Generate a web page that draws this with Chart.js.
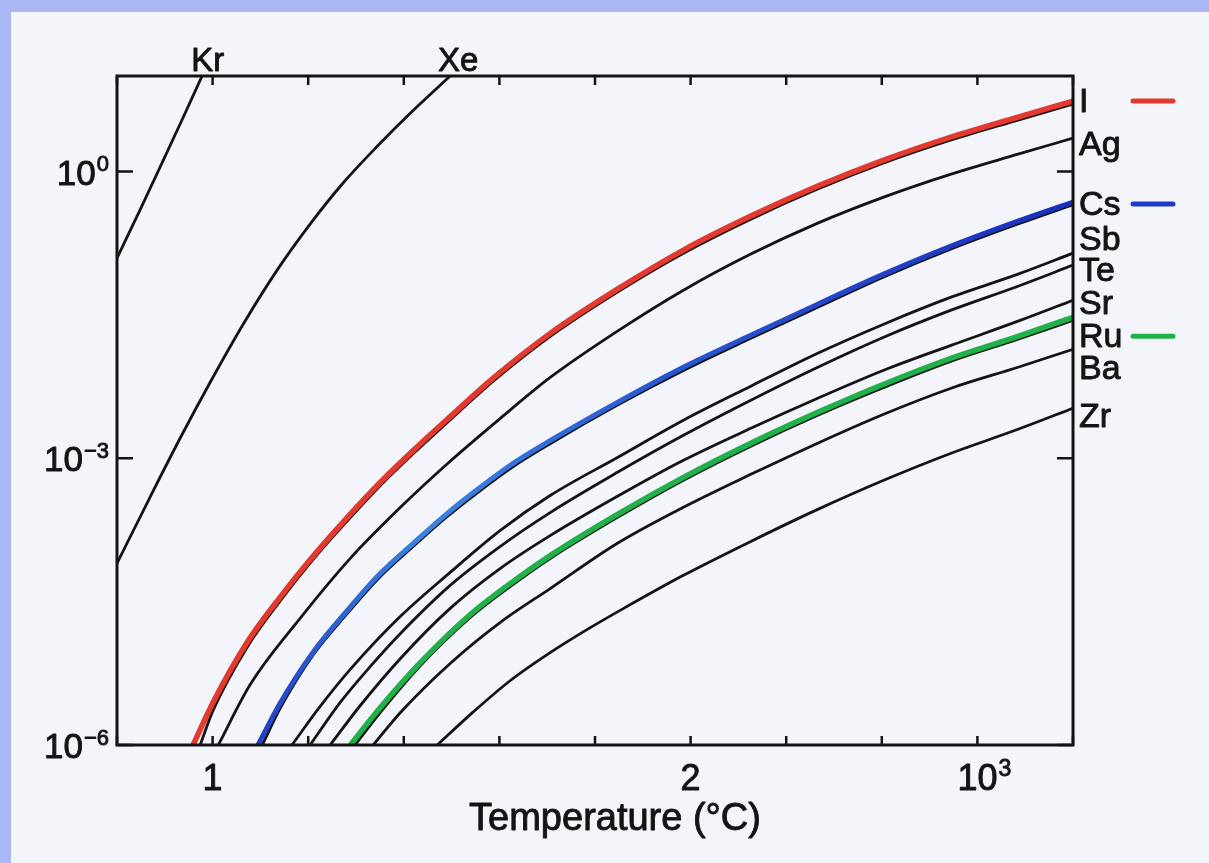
<!DOCTYPE html>
<html>
<head>
<meta charset="utf-8">
<script src="https://cdn.jsdelivr.net/npm/chart.js@4.4.0/dist/chart.umd.min.js"></script>
<style>
  html, body { margin: 0; padding: 0; }
  body { width: 1209px; height: 863px; background: #a9b8f4; position: relative; overflow: hidden; }
  #paper { position: absolute; left: 11px; top: 12px; right: 0; bottom: 0; background: #f4f5fa; }
  #wrap { position: absolute; left: 0; top: 0; width: 1209px; height: 863px; }
</style>
</head>
<body>
<div id="paper"></div>
<div id="wrap"><canvas id="chart" width="1209" height="863"></canvas></div>
<script>
// axis ticks and labels
const tempTicks = [0.8, 1.0, 1.2, 1.4, 1.6, 1.8, 2.0, 2.2, 2.4, 2.6, 2.8];
const tempLabelAt = [1.0, 2.0, 2.6];
const tempLabelBase = ['1', '2', '10'];
const tempLabelSup = ['', '', '3'];
const fracTicks = [1e0, 1e-3, 1e-6];
const fracTickSup = ['0', '\u22123', '\u22126'];

// curves (x = temperature axis units, y = released fraction)
const krT = [0.8, 0.848, 0.89, 0.934, 0.978];
const krV = [0.124, 0.395, 1.11, 3.30, 10];
const xeT = [0.8, 0.869, 0.932, 0.995, 1.064, 1.135, 1.204, 1.273, 1.345, 1.414, 1.497];
const xeV = [7.96e-5, 3.91e-4, 1.62e-3, 6.25e-3, 0.0253, 0.0931, 0.282, 0.759, 1.85, 4.10, 10];

const iT = [0.974, 1.001, 1.072, 1.141, 1.210, 1.282, 1.351, 1.420, 1.491, 1.587, 1.707, 1.847, 1.985, 2.126, 2.266, 2.404, 2.545, 2.685, 2.80];
const iV = [1e-6, 2.3e-6, 1.05e-5, 3.2e-5, 8.7e-5, 2.22e-4, 5.2e-4, 1.12e-3, 2.37e-3, 6.4e-3, 0.019, 0.055, 0.140, 0.318, 0.656, 1.23, 2.14, 3.46, 5.1];
const iRedT = [0.959, 1.001, 1.072, 1.141, 1.210, 1.282, 1.351, 1.420, 1.491, 1.587, 1.707, 1.847, 1.985, 2.126, 2.266, 2.404, 2.545, 2.685, 2.80];
const iRedV = [1e-6, 2.79e-6, 1.18e-5, 3.51e-5, 9.42e-5, 2.41e-4, 5.61e-4, 1.21e-3, 2.56e-3, 6.89e-3, 0.0204, 0.0589, 0.151, 0.342, 0.705, 1.32, 2.30, 3.72, 5.47];

const agT = [1.012, 1.079, 1.183, 1.288, 1.393, 1.497, 1.602, 1.707, 1.847, 1.985, 2.126, 2.266, 2.404, 2.545, 2.685, 2.80];
const agV = [1e-6, 4.31e-6, 2.11e-5, 8.97e-5, 3.07e-4, 9.31e-4, 2.62e-3, 7.05e-3, 0.0214, 0.0574, 0.137, 0.289, 0.541, 0.942, 1.52, 2.24];

const csT = [1.104, 1.141, 1.210, 1.282, 1.351, 1.420, 1.491, 1.560, 1.629, 1.707, 1.847, 1.985, 2.126, 2.266, 2.404, 2.545, 2.685, 2.80];
const csV = [1e-6, 2.4e-6, 8.7e-6, 2.38e-5, 5.8e-5, 1.2e-4, 2.46e-4, 4.6e-4, 8.2e-4, 1.43e-3, 3.6e-3, 8.3e-3, 0.018, 0.038, 0.079, 0.155, 0.283, 0.45];
const csBlueT = [1.095, 1.141, 1.210, 1.282, 1.351, 1.420, 1.491, 1.560, 1.629, 1.707, 1.847, 1.985, 2.126, 2.266, 2.404, 2.545, 2.685, 2.80];
const csBlueV = [1e-6, 2.72e-6, 9.31e-6, 2.56e-5, 6.25e-5, 1.29e-4, 2.65e-4, 4.97e-4, 8.87e-4, 1.54e-3, 3.85e-3, 8.97e-3, 0.0194, 0.041, 0.0845, 0.166, 0.303, 0.48];

const sbT = [1.166, 1.225, 1.288, 1.393, 1.497, 1.602, 1.707, 1.847, 1.985, 2.126, 2.266, 2.404, 2.545, 2.685, 2.80];
const sbV = [1e-6, 2.53e-6, 6.18e-6, 2.22e-5, 6.4e-5, 1.76e-4, 4.1e-4, 1.02e-3, 2.5e-3, 5.68e-3, 0.01256, 0.0253, 0.0485, 0.0845, 0.140];

const teT = [1.204, 1.267, 1.330, 1.393, 1.497, 1.602, 1.707, 1.847, 1.985, 2.126, 2.266, 2.404, 2.545, 2.685, 2.80];
const teV = [1e-6, 2.79e-6, 6.64e-6, 1.47e-5, 4.68e-5, 1.2e-4, 2.72e-4, 7.13e-4, 1.74e-3, 4.05e-3, 8.97e-3, 0.0185, 0.0355, 0.0632, 0.105];

const srT = [1.246, 1.309, 1.393, 1.497, 1.602, 1.707, 1.847, 1.985, 2.126, 2.266, 2.404, 2.545, 2.685, 2.80];
const srV = [1e-6, 2.59e-6, 8.05e-6, 2.69e-5, 7.05e-5, 1.56e-4, 4.0e-4, 9.53e-4, 2.06e-3, 4.25e-3, 8.34e-3, 0.0152, 0.0272, 0.0451];

const ruT = [1.298, 1.351, 1.435, 1.539, 1.623, 1.707, 1.847, 1.985, 2.126, 2.266, 2.404, 2.545, 2.685, 2.80];
const ruV = [1e-6, 2.2e-6, 6.8e-6, 2.16e-5, 4.57e-5, 9.0e-5, 2.41e-4, 5.9e-4, 1.34e-3, 2.82e-3, 5.5e-3, 0.01036, 0.0176, 0.0278];
const ruGreenT = [1.288, 1.351, 1.435, 1.539, 1.623, 1.707, 1.847, 1.985, 2.126, 2.266, 2.404, 2.545, 2.685, 2.80];
const ruGreenV = [1e-6, 2.47e-6, 7.31e-6, 2.32e-5, 4.91e-5, 9.64e-5, 2.59e-4, 6.32e-4, 1.44e-3, 3.03e-3, 5.96e-3, 0.01114, 0.0189, 0.0299];

const baT = [1.336, 1.393, 1.497, 1.602, 1.707, 1.847, 1.985, 2.126, 2.266, 2.404, 2.545, 2.685, 2.80];
const baV = [1e-6, 2.19e-6, 7.13e-6, 1.92e-5, 4.36e-5, 1.29e-4, 3.07e-4, 6.79e-4, 1.44e-3, 2.89e-3, 5.41e-3, 8.97e-3, 0.01384];

const zrT = [1.470, 1.539, 1.623, 1.707, 1.791, 1.860, 1.985, 2.126, 2.266, 2.404, 2.545, 2.685, 2.80];
const zrV = [1e-6, 2.08e-6, 4.73e-6, 9.31e-6, 1.7e-5, 2.69e-5, 5.96e-5, 1.35e-4, 2.92e-4, 5.89e-4, 1.13e-3, 2.01e-3, 3.34e-3];

// element names at the right edge, and where their text sits on the y scale
const endNames = ['I', 'Ag', 'Cs', 'Sb', 'Te', 'Sr', 'Ru', 'Ba', 'Zr'];
const endNameY = [5.6, 1.99, 0.468, 0.20, 0.095, 0.043, 0.0194, 0.00897, 0.00282];
const keyNames = ['I', 'Cs', 'Ru'];
const keyColors = ['#e23a2f', '#1f3cc6', '#22b04a'];
const topNames = ['Kr', 'Xe'];
const topNameT = [0.99, 1.514];

const FONT = '"Liberation Sans", Arial, sans-serif';
const INK = '#141414';

function pts(xs, ys) {
    return xs.map((t, i) => ({ x: t, y: ys[i] }));
}

function curve(xs, ys, color, width, order) {
    return {
        data: pts(xs, ys),
        borderColor: color,
        borderWidth: width,
        pointRadius: 0,
        cubicInterpolationMode: 'monotone',
        fill: false,
        order: order
    };
}

// blue marker stroke is lighter in the middle, darker at both ends
function blueStroke(context) {
    const chart = context.chart;
    const a = chart.chartArea;
    if (!a) return '#1f3cc6';
    const g = chart.ctx.createLinearGradient(a.left + 140, 0, a.right, 0);
    g.addColorStop(0, '#2140c4');
    g.addColorStop(0.2, '#3b84df');
    g.addColorStop(0.5, '#2a56d2');
    g.addColorStop(1, '#1b2fbe');
    return g;
}

// slightly heavier than regular weight, like the printed figure
function ink(ctx, text, x, y) {
    ctx.fillText(text, x, y);
    ctx.strokeText(text, x, y);
}

function drawPow(ctx, base, sup, x, baseline, size, align) {
    ctx.font = size + 'px ' + FONT;
    const wb = ctx.measureText(base).width;
    ctx.font = Math.round(size * 0.64) + 'px ' + FONT;
    const ws = sup ? ctx.measureText(sup).width + 1 : 0;
    let left;
    if (align === 'right') left = x - wb - ws;
    else left = x - wb / 2;
    ctx.textAlign = 'left';
    ctx.textBaseline = 'alphabetic';
    ctx.font = size + 'px ' + FONT;
    ink(ctx, base, left, baseline);
    if (sup) {
        ctx.font = Math.round(size * 0.64) + 'px ' + FONT;
        ink(ctx, sup, left + wb + 1, baseline - size * 0.38);
    }
}

const framePlugin = {
    id: 'frame',
    afterDraw(chart) {
        const { ctx, chartArea: a } = chart;
        const x = chart.scales.x;
        const y = chart.scales.y;
        ctx.save();
        ctx.strokeStyle = INK;
        ctx.fillStyle = INK;
        ctx.lineCap = 'butt';

        // inward ticks
        ctx.lineWidth = 2.5;
        ctx.beginPath();
        tempTicks.forEach(t => {
            const px = x.getPixelForValue(t);
            ctx.moveTo(px, a.bottom); ctx.lineTo(px, a.bottom - 9);
            ctx.moveTo(px, a.top); ctx.lineTo(px, a.top + 9);
        });
        fracTicks.forEach(v => {
            const py = y.getPixelForValue(v);
            ctx.moveTo(a.left, py); ctx.lineTo(a.left + 16, py);
            ctx.moveTo(a.right, py); ctx.lineTo(a.right - 16, py);
        });
        ctx.stroke();

        // box
        ctx.lineWidth = 3;
        ctx.strokeRect(a.left, a.top, a.right - a.left, a.bottom - a.top);

        ctx.lineWidth = 0.9;
        ctx.lineJoin = 'round';

        // y tick labels
        fracTicks.forEach((v, i) => {
            const py = y.getPixelForValue(v);
            drawPow(ctx, '10', fracTickSup[i], a.left - 8, py + 13, 35, 'right');
        });

        // x tick labels
        tempLabelAt.forEach((t, i) => {
            const px = x.getPixelForValue(t);
            drawPow(ctx, tempLabelBase[i], tempLabelSup[i], px, a.bottom + 45, 36, 'center');
        });

        // axis title
        ctx.font = '38px ' + FONT;
        ctx.textAlign = 'center';
        ctx.textBaseline = 'alphabetic';
        ink(ctx, 'Temperature (\u00B0C)', 615, 830);

        // noble gas names over the top edge
        ctx.font = '33px ' + FONT;
        topNames.forEach((n, i) => {
            ink(ctx, n, x.getPixelForValue(topNameT[i]), a.top - 5);
        });

        // element names on the right
        ctx.font = '34px ' + FONT;
        ctx.textAlign = 'left';
        endNames.forEach((n, i) => {
            const py = y.getPixelForValue(endNameY[i]);
            ink(ctx, n, a.right + 6, py + 12);
        });

        // coloured key strokes
        ctx.lineWidth = 5;
        ctx.lineCap = 'round';
        keyNames.forEach((n, i) => {
            const py = y.getPixelForValue(endNameY[endNames.indexOf(n)]) + 1;
            ctx.strokeStyle = keyColors[i];
            ctx.beginPath();
            ctx.moveTo(a.right + 60, py);
            ctx.lineTo(a.right + 100, py);
            ctx.stroke();
        });
        ctx.restore();
    }
};

const ctx = document.getElementById('chart').getContext('2d');
new Chart(ctx, {
    type: 'line',
    data: {
        datasets: [
            curve(iRedT, iRedV, '#e23a2f', 5.5, 0),
            curve(csBlueT, csBlueV, blueStroke, 5, 0),
            curve(ruGreenT, ruGreenV, '#22b04a', 5.5, 0),
            curve(krT, krV, INK, 2.8, 1),
            curve(xeT, xeV, INK, 2.8, 1),
            curve(iT, iV, INK, 2.8, 1),
            curve(agT, agV, INK, 2.8, 1),
            curve(csT, csV, INK, 2.8, 1),
            curve(sbT, sbV, INK, 2.8, 1),
            curve(teT, teV, INK, 2.8, 1),
            curve(srT, srV, INK, 2.8, 1),
            curve(ruT, ruV, INK, 2.8, 1),
            curve(baT, baV, INK, 2.8, 1),
            curve(zrT, zrV, INK, 2.8, 1)
        ]
    },
    options: {
        responsive: false,
        devicePixelRatio: 1,
        animation: false,
        layout: { padding: { left: 117, right: 136, top: 76, bottom: 118 } },
        plugins: { legend: { display: false }, tooltip: { enabled: false } },
        scales: {
            x: { type: 'linear', min: 0.8, max: 2.8, display: false },
            y: { type: 'logarithmic', min: 1e-6, max: 10, display: false }
        }
    },
    plugins: [framePlugin]
});
</script>
</body>
</html>
